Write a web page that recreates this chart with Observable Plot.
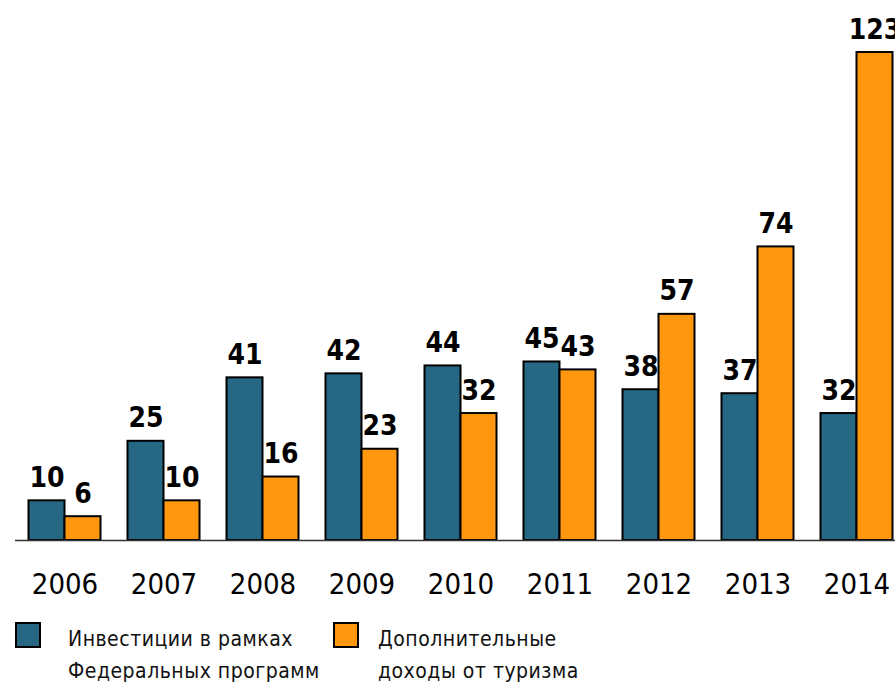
<!DOCTYPE html>
<html>
<head>
<meta charset="utf-8">
<script src="https://cdn.jsdelivr.net/npm/d3@7"></script>
<script src="https://cdn.jsdelivr.net/npm/@observablehq/plot@0.6"></script>
<style>
  html, body { margin: 0; padding: 0; background: #fff; }
  #wrap { position: relative; width: 895px; height: 684px; overflow: hidden; font-family: "Liberation Sans Narrow", "Arial Narrow", "DejaVu Sans Condensed", sans-serif; }
  .sw { position: absolute; width: 22px; height: 22px; border: 2px solid #000; top: 622px; }
  .lt { position: absolute; top: 623px; font-size: 21px; letter-spacing: 0.5px; line-height: 32px; color: #111; white-space: nowrap; }
</style>
</head>
<body>
<div id="wrap">
  <div id="chart"></div>
  <div class="sw" id="sw0" style="left:15px;"></div>
  <div class="lt" id="lt0" style="left:68px;"></div>
  <div class="sw" id="sw1" style="left:333px;"></div>
  <div class="lt" id="lt1" style="left:378px;"></div>
</div>
<script>
const years = ["2006","2007","2008","2009","2010","2011","2012","2013","2014"];
const seriesNames = ["Инвестиции в рамках Федеральных программ", "Дополнительные доходы от туризма"];
const legendLines = [["Инвестиции в рамках", "Федеральных программ"], ["Дополнительные", "доходы от туризма"]];
const invest = [10, 25, 41, 42, 44, 45, 38, 37, 32];
const tourism = [6, 10, 16, 23, 32, 43, 57, 74, 123];
const colors = ["#266783", "#ff980e"];

const data = [];
years.forEach((y, i) => {
  data.push({year: y, series: seriesNames[0], value: invest[i]});
  data.push({year: y, series: seriesNames[1], value: tourism[i]});
});

const chart = Plot.plot({
  width: 895,
  height: 610,
  marginLeft: 27.5,
  marginRight: 2.5,
  marginTop: 52,
  marginBottom: 70,
  style: {fontFamily: '"Liberation Sans Narrow", "Arial Narrow", "DejaVu Sans Condensed", sans-serif', color: "#000", background: "#fff"},
  fx: {domain: years, paddingInner: 0.263, paddingOuter: 0, label: null},
  x: {domain: seriesNames, axis: null, padding: 0},
  y: {domain: [0, 123], axis: null},
  color: {domain: seriesNames, range: colors},
  marks: [
    Plot.barY(data, {fx: "year", x: "series", y: "value", fill: "series", stroke: "#000", strokeWidth: 2}),
    Plot.text(data, {fx: "year", x: "series", y: "value", text: d => String(d.value), lineAnchor: "bottom", dy: -14, fontSize: 28, fontWeight: "bold", fill: "#000"}),
    Plot.ruleY([0], {insetLeft: -13, insetRight: -13, stroke: "#333", strokeWidth: 1.5}),
    Plot.axisFx({anchor: "bottom", tickSize: 0, tickPadding: 33, fontSize: 29, label: null})
  ]
});
document.getElementById("chart").appendChild(chart);

[0, 1].forEach(i => {
  document.getElementById("sw" + i).style.background = colors[i];
  document.getElementById("lt" + i).innerHTML = legendLines[i].join("<br>");
});
</script>
</body>
</html>
